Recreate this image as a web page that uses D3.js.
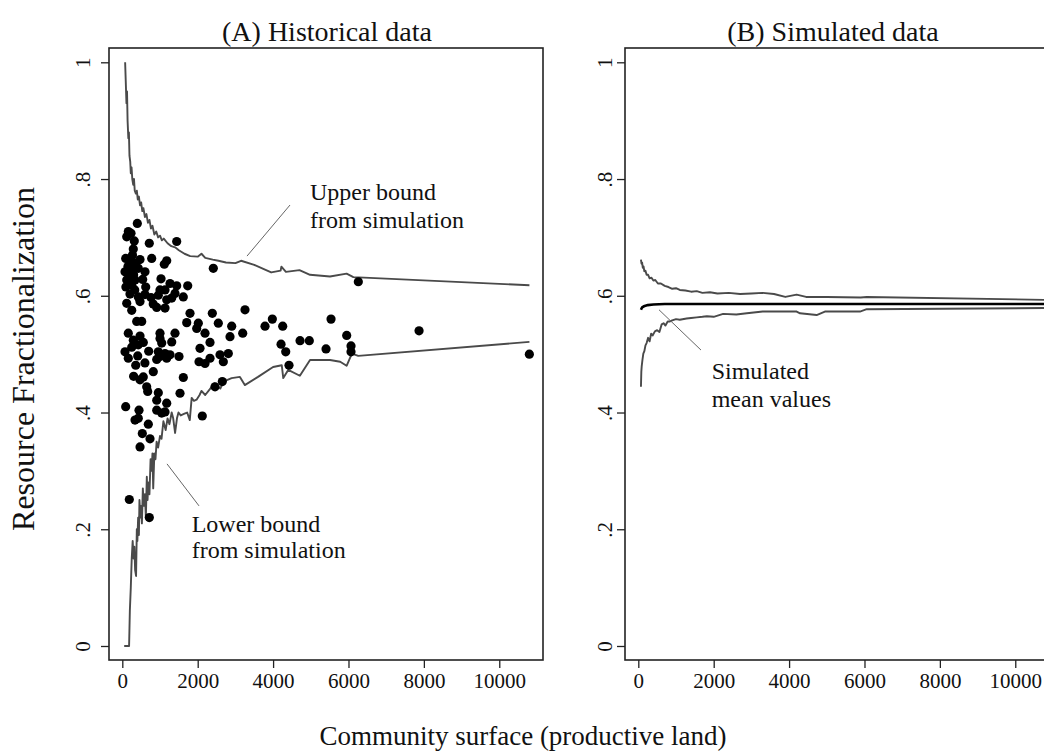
<!DOCTYPE html>
<html>
<head>
<meta charset="utf-8">
<script src="https://cdn.jsdelivr.net/npm/d3@7"></script>
<style>
  html, body { margin: 0; padding: 0; background: #fff; }
  svg { display: block; }
  text { font-family: "Liberation Serif", "Times New Roman", serif; fill: #111; }
</style>
</head>
<body>
<svg id="chart" width="1044" height="751"></svg>
<script>
// ---------------- DATA ----------------
const panelTitles = ["(A) Historical data", "(B) Simulated data"];
const yAxisLabel = "Resource Fractionalization";
const xAxisLabel = "Community surface (productive land)";
const xTickValues = [0, 2000, 4000, 6000, 8000, 10000];
const yTickValues = [0, 0.2, 0.4, 0.6, 0.8, 1];
const yTickLabels = ["0", ".2", ".4", ".6", ".8", "1"];

// Panel A: historical observations [surface, fractionalization]
const histPoints = [
[398,0.724],[159,0.710],[231,0.707],[117,0.701],[318,0.694],[716,0.690],[1443,0.693],[292,0.680],
[90,0.664],[204,0.661],[470,0.662],[780,0.664],[1178,0.660],[1114,0.654],[337,0.656],
[72,0.641],[249,0.644],[424,0.647],[602,0.641],[178,0.630],[337,0.627],[249,0.618],[117,0.627],
[1027,0.629],[621,0.615],[1265,0.621],[1443,0.617],[1735,0.617],[1133,0.610],[1398,0.604],
[204,0.603],[424,0.598],[761,0.597],[955,0.601],[1311,0.596],[1618,0.598],[117,0.587],[470,0.590],
[913,0.580],[1133,0.579],[1178,0.593],[382,0.556],[515,0.556],[1796,0.570],[2388,0.570],[2414,0.647],
[1709,0.554],[2016,0.553],[2547,0.553],
[159,0.536],[470,0.531],[292,0.524],[557,0.520],[424,0.516],[1000,0.536],[1000,0.527],[1045,0.519],
[1398,0.536],[1311,0.521],[1974,0.544],[2194,0.536],[2327,0.520],[2857,0.530],[2902,0.548],[3194,0.536],
[72,0.504],[159,0.493],[409,0.497],[356,0.481],[955,0.504],[1000,0.496],[1133,0.501],[913,0.491],[1178,0.493],[1265,0.499],
[1504,0.496],[2061,0.510],[2035,0.487],[2194,0.484],[2327,0.493],[2592,0.499],[2680,0.487],[2812,0.501],
[822,0.470],[557,0.461],[470,0.456],[1618,0.460],[647,0.444],[674,0.436],[955,0.434],[913,0.421],[1531,0.433],
[2459,0.444],[2653,0.453],[1178,0.416],[90,0.410],[443,0.404],[913,0.404],[1133,0.401],[337,0.387],[424,0.390],
[690,0.380],[2122,0.394],[531,0.364],[735,0.355],[470,0.341],[186,0.251],[716,0.220],[1045,0.399],
[6261,0.624],[3255,0.576],[3786,0.548],[3980,0.560],[4255,0.548],[5537,0.560],[7872,0.540],[5953,0.532],
[4211,0.517],[4335,0.504],[4715,0.523],[4961,0.523],[5404,0.509],[6067,0.514],[6067,0.504],[4422,0.481],[10798,0.500],
[270,0.670],[150,0.650],[300,0.636],[540,0.628],[95,0.615],[330,0.610],[600,0.602],[250,0.575],[820,0.586],
[1000,0.610],[250,0.512],[700,0.505],[600,0.485],[300,0.462]
];

// Panel A: simulated bounds
const upperBoundA = [
[75,1.000],[90,0.97],[110,0.93],[125,0.95],[140,0.90],[160,0.87],[175,0.88],[190,0.84],[210,0.83],
[225,0.81],[245,0.82],[265,0.80],[290,0.79],[310,0.80],[330,0.78],[360,0.775],[385,0.78],[410,0.765],
[440,0.77],[470,0.755],[500,0.76],[530,0.745],[560,0.75],[600,0.735],[640,0.74],[680,0.725],[720,0.73],
[760,0.715],[800,0.72],[850,0.705],[900,0.71],[950,0.70],[1000,0.703],[1050,0.695],[1100,0.698],
[1200,0.69],[1300,0.685],[1400,0.683],[1500,0.678],[1650,0.672],[1800,0.668],[2000,0.667],[2100,0.672],
[2200,0.665],[2400,0.662],[2550,0.660],[2750,0.657],[3000,0.656],[3150,0.660],[3500,0.653],[3950,0.640],
[4200,0.643],[4220,0.650],[4340,0.641],[4700,0.644],[4980,0.636],[5510,0.633],[5950,0.638],[6130,0.632],
[10800,0.618]
];
const lowerBoundA = [
[50,0.000],[180,0.000],[200,0.06],[225,0.10],[250,0.15],[275,0.18],[300,0.15],[320,0.17],[340,0.13],
[365,0.12],[385,0.20],[400,0.18],[420,0.22],[440,0.19],[455,0.25],[480,0.22],[500,0.24],[520,0.21],
[545,0.27],[570,0.24],[600,0.26],[625,0.22],[650,0.29],[670,0.25],[690,0.28],[720,0.26],[750,0.32],
[780,0.30],[800,0.33],[820,0.27],[850,0.33],[880,0.32],[910,0.35],[950,0.34],[1000,0.36],[1040,0.355],
[1090,0.385],[1150,0.37],[1200,0.39],[1250,0.38],[1310,0.40],[1350,0.39],[1400,0.365],[1450,0.39],
[1490,0.40],[1550,0.395],[1650,0.398],[1720,0.40],[1790,0.387],[1840,0.425],[1900,0.42],[1970,0.422],
[2050,0.43],[2100,0.437],[2200,0.43],[2370,0.444],[2450,0.45],[2600,0.441],[2680,0.453],[2900,0.459],
[3120,0.461],[3250,0.447],[3600,0.461],[4000,0.478],[4230,0.481],[4270,0.459],[4400,0.473],[4710,0.463],
[4980,0.490],[5510,0.490],[5780,0.487],[5950,0.480],[6090,0.501],[6260,0.497],[10800,0.521]
];

// Panel B: simulated bounds and mean
const upperBoundB = [
[70,0.662],[85,0.655],[100,0.657],[120,0.648],[140,0.650],[160,0.642],[190,0.643],[220,0.636],[260,0.636],
[300,0.630],[350,0.631],[400,0.626],[450,0.627],[520,0.621],[600,0.621],[700,0.617],[800,0.615],[900,0.612],
[1000,0.613],[1100,0.610],[1250,0.609],[1400,0.607],[1550,0.608],[1700,0.605],[1900,0.606],[2100,0.604],
[2400,0.605],[2700,0.603],[3000,0.604],[3300,0.605],[3600,0.603],[3900,0.598],[4200,0.602],[4450,0.598],
[5000,0.598],[5900,0.597],[6060,0.598],[10800,0.593]
];
const meanB = [
[70,0.576],[100,0.580],[150,0.582],[250,0.584],[400,0.585],[700,0.586],[10800,0.586]
];
const lowerBoundB = [
[70,0.444],[80,0.47],[90,0.479],[110,0.49],[133,0.501],[160,0.505],[190,0.515],[220,0.519],[260,0.528],
[300,0.522],[340,0.535],[380,0.532],[440,0.539],[500,0.541],[560,0.538],[620,0.551],[670,0.553],[720,0.549],
[780,0.556],[840,0.556],[900,0.558],[1000,0.560],[1100,0.559],[1280,0.561],[1400,0.562],[1550,0.563],
[1700,0.564],[1820,0.565],[2000,0.564],[2250,0.569],[2600,0.568],[2880,0.570],[3300,0.573],[3760,0.573],
[4200,0.573],[4290,0.570],[4730,0.567],[4950,0.573],[5880,0.573],[6060,0.577],[10800,0.579]
];

// annotations: text lines and leader segments (data coordinates)
const annotationsA = [
  {lines: ["Upper bound", "from simulation"], x: 4979, y: [0.764, 0.716], leader: [[4449,0.7555],[3308,0.668]]},
  {lines: ["Lower bound", "from simulation"], x: 1841, y: [0.196, 0.150], leader: [[1186,0.312],[2035,0.240]]}
];
const annotationsB = [
  {lines: ["Simulated", "mean values"], x: 1947, y: [0.457, 0.410], leader: [[549,0.576],[1663,0.507]]}
];

// ---------------- LAYOUT ----------------
const svg = d3.select("#chart");
const xDomain = [-353, 11160];
const yDomain = [-0.024, 1.0245];
const plotTop = 48, plotBottom = 660;
const panels = [
  {left: 109, right: 543, title: panelTitles[0], titleX: 327, tickLabelX: 90},
  {left: 625, right: 1059, title: panelTitles[1], titleX: 833, tickLabelX: 612}
];
const y = d3.scaleLinear().domain(yDomain).range([plotBottom, plotTop]);

const lineGray = "#4a4a4a";

panels.forEach((p, i) => {
  const x = d3.scaleLinear().domain(xDomain).range([p.left, p.right]);
  p.x = x;
  const g = svg.append("g");

  // title
  svg.append("text").attr("x", p.titleX).attr("y", 41)
    .attr("text-anchor", "middle").style("font-size", "28px").text(p.title);

  // x axis
  const xa = g.append("g").attr("transform", `translate(0,${plotBottom})`)
    .call(d3.axisBottom(x).tickValues(xTickValues).tickSize(8).tickPadding(4).tickFormat(d3.format("d")));
  xa.select(".domain").remove();
  xa.selectAll("line").attr("stroke", "#222").attr("stroke-width", 1.3);
  xa.selectAll("text").style("font-size", "21px").attr("fill", "#111").attr("dy", "0.74em");

  // y axis
  const ya = g.append("g").attr("transform", `translate(${p.left},0)`)
    .call(d3.axisLeft(y).tickValues(yTickValues).tickSize(8).tickFormat((d, k) => yTickLabels[k]));
  ya.select(".domain").remove();
  ya.selectAll("line").attr("stroke", "#222").attr("stroke-width", 1.3);
  ya.selectAll("text")
    .attr("x", null).attr("dy", null)
    .attr("text-anchor", "middle")
    .style("font-size", "21px").attr("fill", "#111")
    .attr("transform", `translate(${p.tickLabelX - p.left},0) rotate(-90)`);

  // frame
  g.append("rect").attr("x", p.left).attr("y", plotTop)
    .attr("width", p.right - p.left).attr("height", plotBottom - plotTop)
    .attr("fill", "none").attr("stroke", "#222").attr("stroke-width", 1.6);
});

const line = (xs) => d3.line().x(d => xs(d[0])).y(d => y(d[1]));

// Panel A
const pA = panels[0];
const gA = svg.append("g");
[upperBoundA, lowerBoundA].forEach(s => {
  gA.append("path").datum(s).attr("d", line(pA.x)).attr("fill", "none")
    .attr("stroke", lineGray).attr("stroke-width", 1.9).attr("stroke-linejoin", "round");
});
gA.selectAll("circle").data(histPoints).enter().append("circle")
  .attr("cx", d => pA.x(d[0])).attr("cy", d => y(d[1])).attr("r", 4.6).attr("fill", "#000");

// Panel B
const pB = panels[1];
const gB = svg.append("g");
[upperBoundB, lowerBoundB].forEach(s => {
  gB.append("path").datum(s).attr("d", line(pB.x)).attr("fill", "none")
    .attr("stroke", lineGray).attr("stroke-width", 1.9).attr("stroke-linejoin", "round");
});
gB.append("path").datum(meanB).attr("d", line(pB.x)).attr("fill", "none")
  .attr("stroke", "#000").attr("stroke-width", 2.6);

// annotations
function drawAnnotations(list, xs) {
  list.forEach(a => {
    svg.append("line")
      .attr("x1", xs(a.leader[0][0])).attr("y1", y(a.leader[0][1]))
      .attr("x2", xs(a.leader[1][0])).attr("y2", y(a.leader[1][1]))
      .attr("stroke", "#666").attr("stroke-width", 1);
    a.lines.forEach((t, k) => {
      svg.append("text").attr("x", xs(a.x)).attr("y", y(a.y[k]))
        .style("font-size", "24px").text(t);
    });
  });
}
drawAnnotations(annotationsA, pA.x);
drawAnnotations(annotationsB, pB.x);

// axis titles
svg.append("text").attr("transform", "translate(34,359) rotate(-90)")
  .attr("text-anchor", "middle").style("font-size", "32px").text(yAxisLabel);
svg.append("text").attr("x", 523).attr("y", 745)
  .attr("text-anchor", "middle").style("font-size", "27px").text(xAxisLabel);
</script>
</body>
</html>
